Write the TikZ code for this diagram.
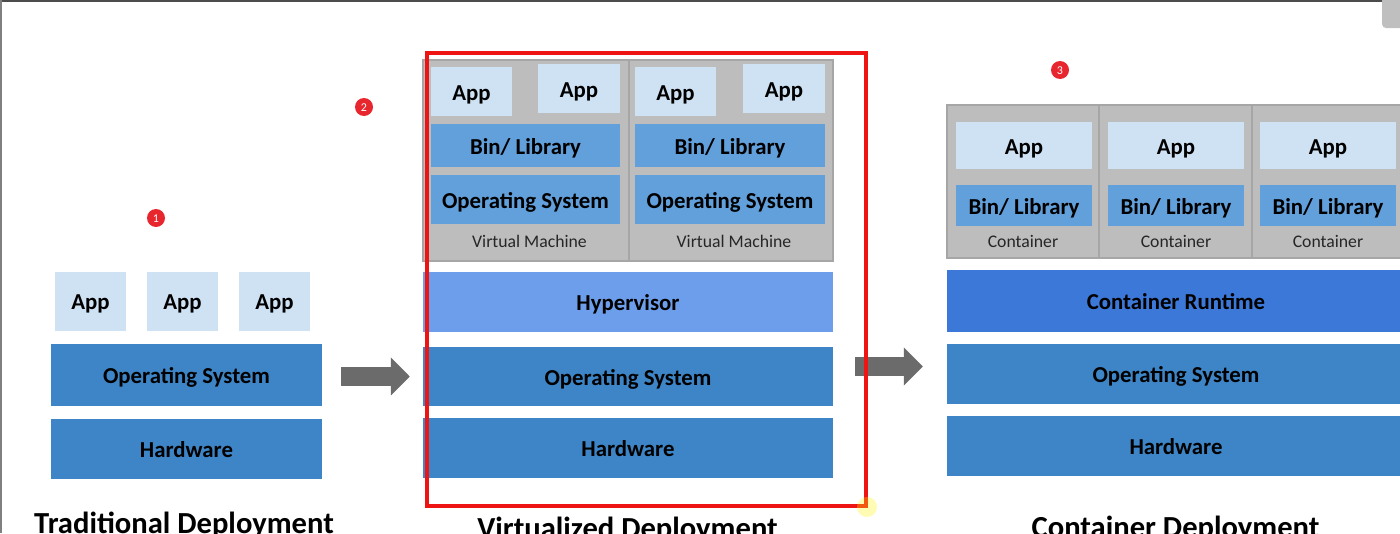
\documentclass[tikz,border=0pt]{standalone}
\usepackage{fontspec}
\setmainfont{Carlito}
\usetikzlibrary{arrows.meta}
\definecolor{applight}{RGB}{207,226,243}
\definecolor{osblue}{RGB}{61,133,198}
\definecolor{libblue}{RGB}{98,160,220}
\definecolor{hypblue}{RGB}{109,158,235}
\definecolor{rtblue}{RGB}{60,120,216}
\definecolor{vmgray}{RGB}{189,189,189}
\definecolor{arrowgray}{RGB}{107,107,107}
\definecolor{markred}{RGB}{232,38,45}
\definecolor{framered}{RGB}{238,20,20}

\begin{document}
\begin{tikzpicture}[x=1pt, y=-1pt,
    every node/.style={inner sep=0pt, text height=17.6pt, text depth=0pt, font=\fontsize{22.8}{26}\selectfont\bfseries},
    app/.style={fill=applight},
    lib/.style={fill=libblue},
    vm/.style={fill=vmgray, draw=black!35, line width=1.5pt},
    tag/.style={font=\fontsize{17.7}{20}\selectfont, text=black!85, text height=11.4pt},
    title/.style={font=\fontsize{30.6}{34}\selectfont\bfseries, anchor=base},
    marker/.style={circle, fill=markred, text=white, minimum size=18pt, text height=8pt, font=\fontsize{12}{12}\selectfont},
    bigarrow/.style={arrowgray, line width=19pt, -{Triangle[width=37pt,length=19pt]}}]
    \useasboundingbox (0,0) rectangle (1400,533);
    \clip (0,0) rectangle (1400,533);

    % traditional
    \node[app, minimum width=71pt, minimum height=59pt] (app1) at (90.5,301) {App};
    \node[app, minimum width=71pt, minimum height=59pt] (app2) at (182.5,301) {App};
    \node[app, minimum width=71pt, minimum height=59pt] (app3) at (274.5,301) {App};
    \node[fill=osblue, minimum width=271pt, minimum height=62pt] (os1) at (186.5,374.5) {Operating System};
    \node[fill=osblue, minimum width=271pt, minimum height=60pt] (hw1) at (186.5,448.5) {Hardware};
    \node[title] (t1) at (184,533) {Traditional Deployment};
    \node[marker] (m1) at (156,218) {1};

    % virtualized
    \node[vm, minimum width=206pt, minimum height=201pt] (vm1) at (526,160.5) {};
    \node[vm, minimum width=204pt, minimum height=201pt] (vm2) at (731,160.5) {};
    \node[app, minimum width=81pt, minimum height=49pt] (vapp1) at (471.5,91.5) {App};
    \node[app, minimum width=82pt, minimum height=49pt] (vapp2) at (579,88.5) {App};
    \node[app, minimum width=81pt, minimum height=49pt] (vapp3) at (675.5,91.5) {App};
    \node[app, minimum width=82pt, minimum height=49pt] (vapp4) at (784,88.5) {App};
    \node[lib, minimum width=189pt, minimum height=43pt] (vlib1) at (525.5,145.5) {Bin/ Library};
    \node[lib, minimum width=190pt, minimum height=43pt] (vlib2) at (730,145.5) {Bin/ Library};
    \node[lib, minimum width=189pt, minimum height=49pt] (vos1) at (525.5,199.5) {Operating System};
    \node[lib, minimum width=190pt, minimum height=49pt] (vos2) at (730,199.5) {Operating System};
    \node[tag] (vmtag1) at (529.5,242) {Virtual Machine};
    \node[tag] (vmtag2) at (734,242) {Virtual Machine};
    \node[fill=hypblue, minimum width=410pt, minimum height=60pt] (hyp) at (628,302) {Hypervisor};
    \node[fill=osblue, minimum width=410pt, minimum height=59pt] (os2) at (628,376.5) {Operating System};
    \node[fill=osblue, minimum width=410pt, minimum height=60pt] (hw2) at (628,448) {Hardware};
    \node[title] (t2) at (627.5,538) {Virtualized Deployment};
    \node[marker] (m2) at (364,107) {2};

    % container
    \node[vm, minimum width=152pt, minimum height=153pt] (box1) at (1023,181.5) {};
    \node[vm, minimum width=153pt, minimum height=153pt] (box2) at (1175.5,181.5) {};
    \node[vm, minimum width=153pt, minimum height=153pt] (box3) at (1328.5,181.5) {};
    \node[app, minimum width=136pt, minimum height=47pt] (capp1) at (1024,145.5) {App};
    \node[app, minimum width=136pt, minimum height=47pt] (capp2) at (1176,145.5) {App};
    \node[app, minimum width=136pt, minimum height=47pt] (capp3) at (1328,145.5) {App};
    \node[lib, minimum width=136pt, minimum height=41pt] (clib1) at (1024,205.5) {Bin/ Library};
    \node[lib, minimum width=136pt, minimum height=41pt] (clib2) at (1176,205.5) {Bin/ Library};
    \node[lib, minimum width=136pt, minimum height=41pt] (clib3) at (1328,205.5) {Bin/ Library};
    \node[tag] (ctag1) at (1023,242) {Container};
    \node[tag] (ctag2) at (1176,242) {Container};
    \node[tag] (ctag3) at (1328,242) {Container};
    \node[fill=rtblue, minimum width=458pt, minimum height=62pt] (rt) at (1176,301) {Container Runtime};
    \node[fill=osblue, minimum width=458pt, minimum height=60pt] (os3) at (1176,374) {Operating System};
    \node[fill=osblue, minimum width=458pt, minimum height=60pt] (hw3) at (1176,446) {Hardware};
    \node[title] (t3) at (1175.5,537) {Container Deployment};
    \node[marker] (m3) at (1060,70) {3};

    % arrows
    \draw[bigarrow, shorten <=19pt, shorten >=13pt] (os1.east |- os2.west) -- (os2.west);
    \draw[bigarrow, shorten <=22pt, shorten >=24pt] ([yshift=10pt]os2.east) -- ([yshift=10pt]os2.east -| os3.west);

    % highlight
    \draw[framered, line width=4pt] (427,53) rectangle (866,506);
    \fill[yellow, opacity=0.3] (867,507) circle (10pt);

    % screen edges
    \draw[black!70, line width=2pt] (0,1) -- (1400,1);
    \draw[black!50, line width=1.5pt] (1,0) -- (1,533);
    \fill[black!25, rounded corners=4pt] (1382,-10) rectangle (1410,28);
\end{tikzpicture}
\end{document}
